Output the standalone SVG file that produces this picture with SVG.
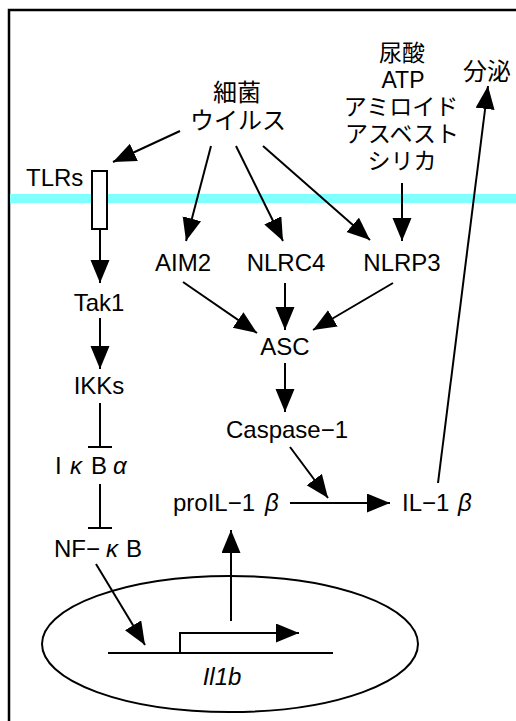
<svg xmlns="http://www.w3.org/2000/svg" width="516" height="721" viewBox="0 0 516 721">
<defs>
<marker id="ah" markerUnits="userSpaceOnUse" markerWidth="24" markerHeight="20" refX="23" refY="9.5" orient="auto">
<path d="M0,0 L23,9.5 L0,19 z" fill="#000"/>
</marker>
<style>
.t{font-family:"Liberation Sans","Noto Sans CJK JP",sans-serif;font-size:24px;fill:#000}
.j{font-family:"Noto Sans CJK JP","Liberation Sans",sans-serif;font-size:24px;fill:#000;text-anchor:middle}
.s{font-size:23px}
.m{text-anchor:middle}
.g{font-style:italic}
.c line,.c path{stroke:#000;stroke-width:2;fill:none}
.a{marker-end:url(#ah)}
</style>
</defs>
<rect x="0" y="0" width="516" height="721" fill="#fff"/>
<path d="M9,721 V10 H516" fill="none" stroke="#000" stroke-width="2.5"/>
<rect id="membrane" x="10" y="194" width="506" height="9" fill="#80ffff"/>

<g id="nucleus"><ellipse cx="230" cy="644" rx="188" ry="68" fill="none" stroke="#000" stroke-width="2"/></g>

<g id="tlrs"><text class="t" x="26" y="186">TLRs</text><rect x="92" y="171" width="15" height="58" fill="#fff" stroke="#000" stroke-width="2"/></g>
<g id="bacteria"><text class="j" x="237" y="101">細菌</text><text class="j" x="238" y="129">ウイルス</text></g>
<g id="danger"><text class="j s" x="402" y="61">尿酸</text><text class="t m s" x="403" y="88">ATP</text><text class="j s" x="401" y="115">アミロイド</text><text class="j s" x="402" y="142">アスベスト</text><text class="j s" x="402" y="169">シリカ</text></g>
<g id="secretion"><text class="j" x="487" y="80">分泌</text></g>
<g id="aim2"><text class="t m" x="183" y="271">AIM2</text></g>
<g id="nlrc4"><text class="t m" x="286" y="271">NLRC4</text></g>
<g id="nlrp3"><text class="t m" x="402" y="271">NLRP3</text></g>
<g id="asc"><text class="t m" x="285" y="355">ASC</text></g>
<g id="caspase1"><text class="t m" x="287" y="438">Caspase−1</text></g>
<g id="tak1"><text class="t m" x="99" y="311">Tak1</text></g>
<g id="ikks"><text class="t m" x="99" y="394">IKKs</text></g>
<g id="ikba"><text class="t" y="474"><tspan x="55">I</tspan><tspan class="g" x="70">κ</tspan><tspan x="91">B</tspan><tspan class="g" x="113">α</tspan></text></g>
<g id="nfkb"><text class="t" y="557"><tspan x="54">NF−</tspan><tspan class="g" x="106">κ</tspan><tspan x="126">B</tspan></text></g>
<g id="proil1b"><text class="t" y="511"><tspan x="173">proIL−1</tspan><tspan class="g" x="265">β</tspan></text></g>
<g id="il1b"><text class="t" y="511"><tspan x="402">IL−1</tspan><tspan class="g" x="458">β</tspan></text></g>
<g id="gene"><text class="t m g" x="222" y="685">Il1b</text></g>

<g id="connectors" class="c">
<line class="a" x1="180" y1="131" x2="113" y2="162"/>
<line class="a" x1="211" y1="146" x2="186" y2="241"/>
<line class="a" x1="236" y1="146" x2="283" y2="241"/>
<line class="a" x1="263" y1="146" x2="370" y2="240"/>
<line class="a" x1="402" y1="183" x2="402" y2="241"/>
<line class="a" x1="100" y1="230" x2="100" y2="283"/>
<line class="a" x1="100" y1="318" x2="100" y2="369"/>
<line x1="100" y1="403" x2="100" y2="447"/>
<line x1="88" y1="447" x2="112" y2="447"/>
<line x1="100" y1="484" x2="100" y2="528"/>
<line x1="88" y1="528" x2="112" y2="528"/>
<line class="a" x1="96" y1="564" x2="145" y2="645"/>
<line class="a" x1="183" y1="282" x2="257" y2="333"/>
<line class="a" x1="285" y1="283" x2="285" y2="330"/>
<line class="a" x1="393" y1="283" x2="313" y2="330"/>
<line class="a" x1="285" y1="363" x2="285" y2="412"/>
<line class="a" x1="290" y1="447" x2="328" y2="498"/>
<line class="a" x1="290" y1="503" x2="390" y2="503"/>
<line class="a" x1="438" y1="483" x2="488" y2="86"/>
<line class="a" x1="231" y1="621" x2="231" y2="530"/>
<line x1="108" y1="653" x2="333" y2="653"/>
<path class="a" d="M180,653 V633 H299"/>
</g>
</svg>
